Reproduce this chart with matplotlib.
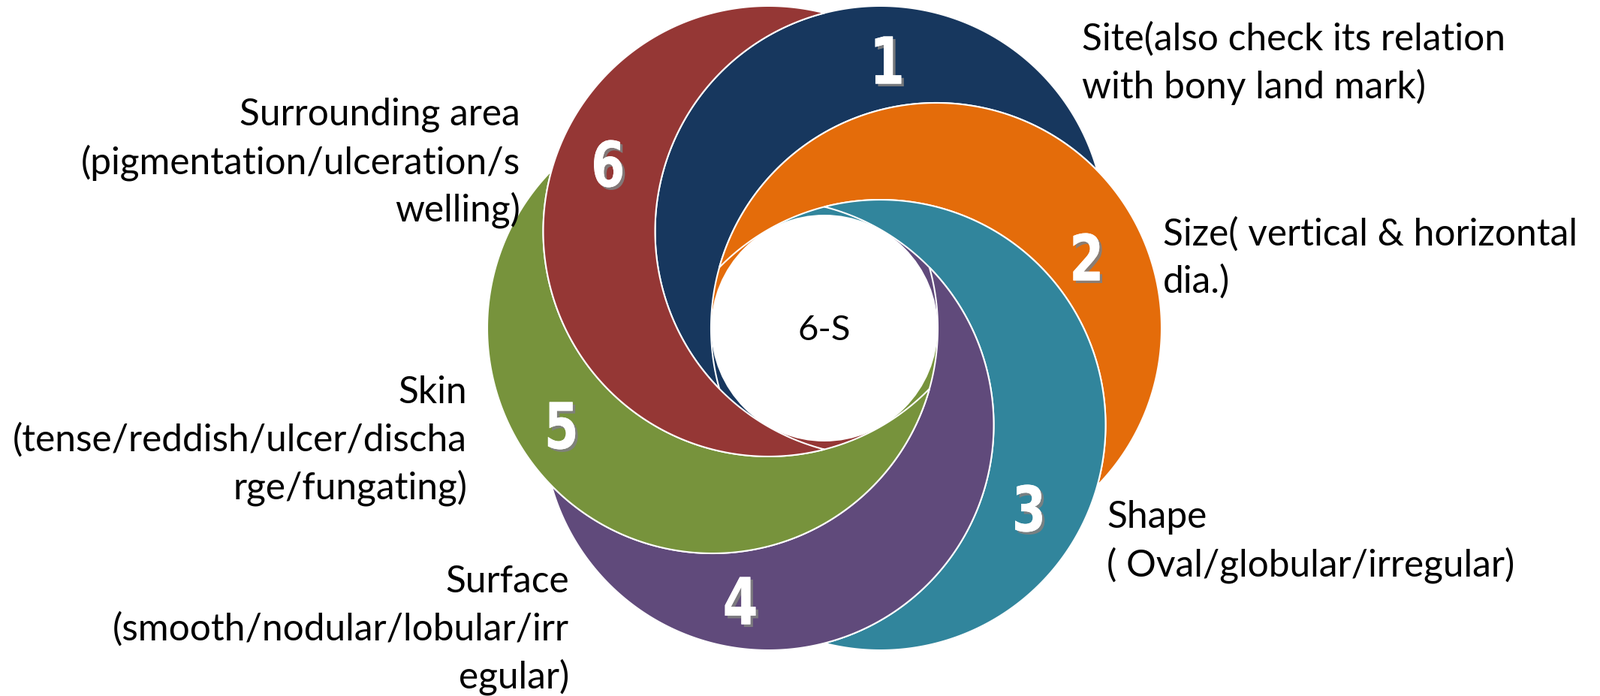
import matplotlib
matplotlib.use("Agg")
import matplotlib.pyplot as plt
import matplotlib.patheffects as pe
from matplotlib.patches import PathPatch, Wedge, Circle
from matplotlib.path import Path
from matplotlib.textpath import TextPath
from matplotlib.font_manager import FontProperties
from matplotlib.transforms import Affine2D
import numpy as np

# ---- content ----
numbers = ["1", "2", "3", "4", "5", "6"]
colors = ["#17375E", "#E46C0A", "#31859C", "#604A7B", "#77933C", "#953735"]
labels = [
    ["Site(also check its relation", "with bony land mark)"],
    ["Size( vertical & horizontal", "dia.)"],
    ["Shape", "( Oval/globular/irregular)"],
    ["Surface", "(smooth/nodular/lobular/irr", "egular)"],
    ["Skin", "(tense/reddish/ulcer/discha", "rge/fungating)"],
    ["Surrounding area", "(pigmentation/ulceration/s", "welling)"],
]
center_text = "6-S"

# ---- layout (pixel coordinates, y down) ----
W, H = 2131, 927
cx, cy = 1098, 437       # centre of the spiral
d = 149                  # offset of each circle centre
R = 300                  # circle radius
hole_r = 151
angles = [-60, 0, 60, 120, 180, 240]   # direction of each circle centre

num_pos = [(1183, 80), (1447, 342), (1370, 677), (986, 800), (748, 567), (810, 218)]
digit_h = 63
digit_squeeze = 0.78
# (x, y of first line, alignment)
label_pos = [(1441, 52, "left"), (1549, 312, "left"), (1474, 689, "left"),
             (758, 775, "right"), (622, 523, "right"), (693, 153, "right")]
pitch = 63.5
text_font = ["Lato", "DejaVu Sans"]
text_size = 35.7

fig = plt.figure(figsize=(W / 100, H / 100), dpi=100)
ax = fig.add_axes([0, 0, 1, 1])
ax.set_xlim(0, W)
ax.set_ylim(H, 0)
ax.set_aspect("equal")
ax.axis("off")

centres = [(cx + d * np.cos(np.radians(a)), cy + d * np.sin(np.radians(a))) for a in angles]


def arc(c, a0, a1, n=300):
    t = np.linspace(a0, a1, n)
    return np.column_stack([c[0] + R * np.cos(t), c[1] + R * np.sin(t)])


def crescent(ci, cj):
    """circle ci minus circle cj"""
    ci = np.array(ci)
    cj = np.array(cj)
    v = cj - ci
    dist = np.hypot(*v)
    phi = np.arctan2(v[1], v[0])
    alpha = np.arccos(dist / 2 / R)
    outer = arc(ci, phi + alpha, phi + 2 * np.pi - alpha)
    p2 = outer[-1]
    p1 = outer[0]
    b2 = np.arctan2(p2[1] - cj[1], p2[0] - cj[0])
    b1 = np.arctan2(p1[1] - cj[1], p1[0] - cj[0])
    diff = (b1 - b2 + np.pi) % (2 * np.pi) - np.pi
    inner = arc(cj, b2, b2 + diff)
    pts = np.vstack([outer, inner, outer[:1]])
    codes = [Path.MOVETO] + [Path.LINETO] * (len(pts) - 2) + [Path.CLOSEPOLY]
    return Path(pts, codes)


# ring just outside the hole, where every circle overlaps
for i in range(6):
    t0 = angles[i] + 180
    ax.add_patch(Wedge((cx, cy), hole_r + 16, t0, t0 + 60, width=17,
                       facecolor=colors[i], edgecolor="none", zorder=1))

for i in range(6):
    j = (i + 1) % 6
    ax.add_patch(PathPatch(crescent(centres[i], centres[j]), facecolor=colors[i],
                           edgecolor="white", lw=1.5, zorder=2))

ax.add_patch(Circle((cx, cy), hole_r, facecolor="white", edgecolor="none", zorder=3))

# condensed white numbers with a soft grey shadow
shadow = [pe.withSimplePatchShadow(offset=(2.5, -2.5), shadow_rgbFace="#808080", alpha=0.9),
          pe.Normal()]
fp = FontProperties(family="DejaVu Sans", weight="bold")
for n, (x, y) in zip(numbers, num_pos):
    tp = TextPath((0, 0), n, size=100, prop=fp)
    bb = tp.get_extents()
    s = digit_h / bb.height
    tr = (Affine2D().translate(-(bb.x0 + bb.x1) / 2, -(bb.y0 + bb.y1) / 2)
          .scale(s * digit_squeeze, -s).translate(x, y))
    ax.add_patch(PathPatch(tr.transform_path(tp), facecolor="white", edgecolor="none",
                           zorder=5, path_effects=shadow))

ax.text(cx, cy + 3, center_text, fontsize=34, family=text_font, ha="center", va="center",
        zorder=5)

for lines, (x, y, ha) in zip(labels, label_pos):
    for k, line in enumerate(lines):
        ax.text(x, y + k * pitch, line, fontsize=text_size, family=text_font, ha=ha,
                va="center", zorder=5)

fig.savefig("out.png", dpi=100)
